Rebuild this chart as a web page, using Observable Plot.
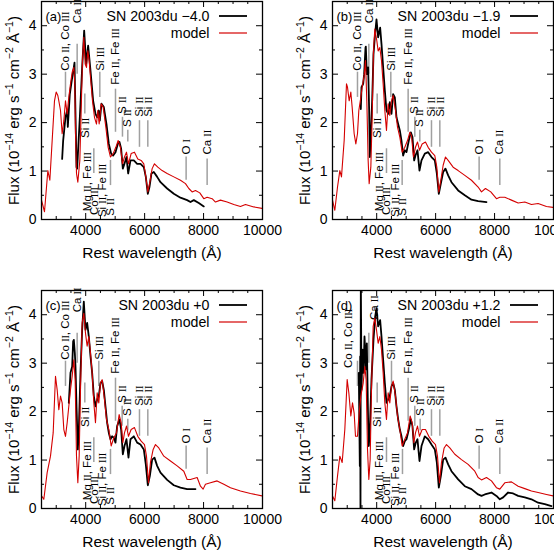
<!DOCTYPE html>
<html><head><meta charset="utf-8">
<script src="https://cdn.jsdelivr.net/npm/d3@7"></script>
<script src="https://cdn.jsdelivr.net/npm/@observablehq/plot@0.6"></script>
<style>
body{margin:0;background:#fff}
#wrap{position:relative;width:554px;height:551px;overflow:hidden;background:#fff}
#wrap svg{position:absolute}
</style></head><body><div id="wrap"></div>
<script>
// ---- data: [rest wavelength (Å), flux (1e-14 erg/s/cm2/Å)] ----
const obsA = [[3201,1.25],[3235,1.63],[3314,2.11],[3371,2.25],[3393,1.91],[3461,2.59],[3541,2.93],[3597,3.14],[3620,3.24],[3688,1.08],[3710,1.05],[3801,2.11],[3880,3.14],[3948,3.90],[4016,3.21],[4083,3.59],[4163,3.07],[4253,2.45],[4332,2.18],[4389,2.11],[4445,2.25],[4479,2.04],[4536,2.39],[4615,2.32],[4705,1.97],[4785,1.56],[4864,1.36],[4932,1.32],[5011,1.39],[5090,1.56],[5146,1.60],[5203,1.46],[5260,1.05],[5316,1.15],[5384,1.29],[5441,0.95],[5520,1.22],[5633,1.22],[5746,1.15],[5859,1.15],[5972,1.08],[6040,0.88],[6108,0.53],[6164,0.67],[6232,0.95],[6311,0.98],[6425,0.88],[6538,0.77],[6764,0.64],[6990,0.53],[7216,0.45],[7442,0.40],[7556,0.36],[7669,0.40],[7838,0.34],[8008,0.27]];
const modelA = [[2500,0.40],[2602,0.16],[2670,0.67],[2715,1.01],[2783,0.81],[2862,1.63],[2941,2.45],[2998,2.63],[3054,2.56],[3088,2.45],[3145,2.25],[3201,1.77],[3258,2.04],[3314,2.45],[3371,2.18],[3427,2.52],[3484,2.80],[3541,3.04],[3597,3.14],[3631,2.80],[3654,1.77],[3688,0.95],[3733,0.77],[3801,1.22],[3846,2.25],[3891,3.28],[3936,3.76],[3982,3.21],[4027,3.14],[4072,3.48],[4117,3.28],[4163,2.93],[4230,2.45],[4298,2.11],[4366,1.97],[4411,2.25],[4457,1.97],[4525,2.39],[4592,2.32],[4683,1.91],[4762,1.49],[4841,1.29],[4932,1.36],[5022,1.49],[5101,1.63],[5180,1.49],[5248,1.15],[5316,1.29],[5384,1.39],[5452,1.15],[5542,1.36],[5655,1.39],[5768,1.25],[5882,1.22],[5972,1.15],[6040,0.88],[6108,0.57],[6176,0.77],[6255,1.05],[6334,1.15],[6447,1.08],[6594,1.01],[6764,0.95],[6990,0.88],[7216,0.81],[7386,0.74],[7499,0.64],[7612,0.57],[7725,0.60],[7872,0.55],[8008,0.43],[8121,0.46],[8291,0.43],[8404,0.36],[8573,0.40],[8800,0.36],[9026,0.31],[9252,0.27],[9422,0.31],[9704,0.26],[9987,0.23]];

const obsB = [[3461,2.28],[3484,2.73],[3541,2.80],[3574,3.00],[3620,3.55],[3631,3.57],[3665,3.00],[3710,3.14],[3744,2.25],[3767,1.29],[3801,1.77],[3846,2.45],[3891,3.41],[3936,3.76],[3993,4.13],[4049,3.76],[4117,3.96],[4163,3.62],[4219,3.14],[4276,2.66],[4332,2.25],[4389,2.18],[4445,2.42],[4502,2.18],[4558,2.59],[4615,2.52],[4671,2.11],[4728,1.97],[4785,1.84],[4841,1.63],[4898,1.32],[4954,1.43],[5011,1.39],[5090,1.63],[5158,1.80],[5214,1.70],[5271,1.22],[5316,1.32],[5384,1.43],[5452,1.01],[5520,1.22],[5633,1.36],[5746,1.39],[5859,1.29],[5972,1.22],[6040,0.95],[6108,0.53],[6176,0.74],[6255,0.98],[6334,1.05],[6425,0.91],[6538,0.77],[6764,0.60],[6990,0.50],[7216,0.41],[7442,0.38],[7725,0.36]];
const modelB = [[2500,0.40],[2579,0.19],[2670,0.67],[2749,1.01],[2805,0.88],[2896,1.63],[2975,2.80],[3009,2.73],[3066,2.45],[3122,2.63],[3167,2.32],[3235,1.77],[3292,1.56],[3348,1.77],[3393,2.25],[3461,2.52],[3507,2.73],[3574,2.97],[3620,3.28],[3665,2.45],[3710,1.22],[3744,0.74],[3801,1.08],[3846,2.11],[3891,3.48],[3936,3.93],[4004,3.69],[4049,3.48],[4106,3.55],[4163,3.28],[4219,2.80],[4276,2.25],[4332,1.84],[4389,2.39],[4445,2.15],[4502,2.45],[4558,2.56],[4638,2.25],[4705,1.91],[4785,1.70],[4864,1.39],[4954,1.49],[5045,1.63],[5124,1.80],[5180,1.73],[5248,1.29],[5316,1.49],[5384,1.60],[5452,1.43],[5542,1.56],[5655,1.60],[5746,1.49],[5859,1.39],[5972,1.32],[6040,1.08],[6108,0.57],[6176,0.81],[6255,1.12],[6334,1.29],[6425,1.22],[6594,1.08],[6764,1.01],[6990,0.91],[7216,0.81],[7442,0.67],[7556,0.57],[7691,0.64],[7872,0.57],[8064,0.43],[8178,0.46],[8347,0.46],[8573,0.40],[8800,0.34],[9026,0.36],[9252,0.31],[9478,0.33],[9761,0.27],[9987,0.25]];

const obsC = [[3427,2.18],[3484,2.80],[3541,2.93],[3574,3.45],[3597,3.48],[3631,3.21],[3654,2.93],[3688,2.11],[3733,1.22],[3767,1.63],[3823,2.80],[3880,3.69],[3936,4.27],[3993,3.69],[4049,3.83],[4106,3.55],[4163,3.14],[4219,2.80],[4276,2.32],[4332,2.11],[4389,2.25],[4445,2.32],[4502,2.59],[4558,2.63],[4615,2.45],[4671,2.11],[4728,1.77],[4785,1.56],[4841,1.43],[4898,1.49],[4954,1.46],[5011,1.36],[5067,1.70],[5146,1.84],[5203,1.63],[5260,1.12],[5316,1.29],[5384,1.43],[5452,1.05],[5520,1.43],[5633,1.49],[5746,1.36],[5859,1.32],[5972,1.22],[6040,0.91],[6108,0.48],[6176,0.67],[6255,1.01],[6334,1.05],[6425,0.88],[6538,0.74],[6764,0.59],[6990,0.48],[7216,0.43],[7442,0.40],[7725,0.40]];
const modelC = [[2500,0.26],[2579,0.19],[2692,0.74],[2805,1.08],[2896,1.56],[2975,2.73],[3032,2.45],[3088,2.04],[3145,2.32],[3201,2.18],[3258,1.63],[3314,1.49],[3371,1.77],[3427,2.11],[3484,2.45],[3541,2.73],[3597,3.07],[3642,2.66],[3688,1.08],[3733,0.53],[3778,1.08],[3823,2.45],[3880,3.83],[3936,4.03],[3993,3.62],[4049,3.35],[4106,3.55],[4163,3.21],[4219,2.80],[4276,2.18],[4332,1.77],[4389,2.39],[4445,2.18],[4502,2.59],[4558,2.66],[4638,2.25],[4705,1.84],[4785,1.63],[4864,1.29],[4954,1.46],[5045,1.56],[5135,1.94],[5203,1.77],[5260,1.36],[5316,1.56],[5384,1.70],[5452,1.49],[5542,1.63],[5655,1.67],[5768,1.49],[5882,1.39],[5995,1.32],[6063,1.08],[6131,0.53],[6198,0.95],[6289,1.22],[6368,1.32],[6481,1.25],[6651,1.08],[6877,0.98],[7103,0.88],[7329,0.77],[7442,0.60],[7556,0.60],[7782,0.64],[7895,0.46],[7985,0.40],[8064,0.50],[8234,0.53],[8460,0.57],[8687,0.50],[8913,0.43],[9252,0.36],[9591,0.31],[9987,0.26]];

const obsD = [[3393,2.80],[3427,0.88],[3439,3.14],[3450,-0.3],[3461,4.8],[3484,2.45],[3518,3.28],[3552,2.80],[3586,3.55],[3608,3.28],[3631,2.87],[3665,3.41],[3688,2.59],[3710,1.77],[3733,1.29],[3767,1.63],[3823,2.66],[3891,3.48],[3948,3.96],[3993,4.13],[4049,3.76],[4117,3.89],[4163,3.55],[4219,3.07],[4276,2.59],[4332,2.18],[4389,2.25],[4445,2.32],[4502,2.52],[4558,2.59],[4615,2.45],[4671,2.11],[4728,1.84],[4785,1.63],[4841,1.49],[4898,1.29],[4954,1.39],[5011,1.43],[5090,1.63],[5158,1.84],[5214,1.70],[5271,1.22],[5327,1.36],[5384,1.43],[5452,0.98],[5520,1.29],[5633,1.49],[5746,1.43],[5859,1.32],[5972,1.22],[6040,0.95],[6108,0.43],[6176,0.67],[6255,1.01],[6334,1.05],[6425,0.91],[6538,0.77],[6764,0.60],[6990,0.46],[7216,0.40],[7442,0.29],[7556,0.26],[7669,0.29],[7895,0.33],[8064,0.26],[8178,0.19],[8291,0.23],[8460,0.33],[8630,0.31],[8800,0.26],[9026,0.23],[9252,0.19],[9478,0.12],[9704,0.09],[9931,0.05]];
const modelD = [[2500,0.26],[2579,0.16],[2670,0.67],[2749,1.08],[2828,0.95],[2918,1.63],[2998,2.66],[3054,2.39],[3122,1.91],[3179,2.18],[3235,1.97],[3280,1.49],[3348,1.49],[3405,1.97],[3461,2.32],[3541,2.59],[3597,2.93],[3642,2.66],[3688,1.22],[3733,0.60],[3778,1.01],[3823,2.45],[3880,3.76],[3936,3.93],[3993,3.69],[4049,3.41],[4106,3.55],[4163,3.28],[4219,2.80],[4276,2.18],[4332,1.84],[4389,2.39],[4445,2.18],[4502,2.52],[4558,2.63],[4638,2.32],[4705,1.91],[4785,1.63],[4864,1.29],[4954,1.43],[5045,1.56],[5135,1.91],[5203,1.77],[5260,1.36],[5316,1.56],[5384,1.70],[5452,1.49],[5542,1.63],[5655,1.63],[5768,1.49],[5882,1.39],[5995,1.32],[6063,1.08],[6131,0.53],[6198,0.95],[6289,1.25],[6368,1.32],[6481,1.25],[6651,1.12],[6877,1.01],[7103,0.91],[7329,0.77],[7442,0.64],[7556,0.59],[7725,0.64],[7895,0.57],[8064,0.43],[8178,0.40],[8347,0.53],[8573,0.55],[8800,0.46],[9026,0.41],[9252,0.36],[9478,0.33],[9761,0.29],[9987,0.26]];

// ---- line identifications ----
const ionNames = ["Co II, Co III","Ca II","Si III","Fe II, Fe III","S II","S II","Si II","Si II","O I","Ca II","Si II","Mg II, Fe III","Co III","Si II, Fe III","S II"];
const ionSide  = ["above","above","above","above","above","above","above","above","above","above","below","below","below","below","below"];
const ionWaveA = [3314,3710,4479,5011,5248,5429,5825,6108,7408,8121,3970,4049,4276,4558,4841];
const ionWaveB = [3348,3733,4479,5067,5293,5463,5859,6142,7476,8178,4016,4083,4332,4615,4864];
const ionWaveC = [3314,3710,4445,5011,5237,5429,5825,6108,7408,8121,3970,4049,4276,4558,4841];
const ionWaveD = [3348,3733,4502,5067,5293,5475,5859,6142,7476,8178,4016,4083,4332,4615,4875];
const ionLabelWaveD = [3032,3920,4502,5067,5293,5475,5859,6142,7476,8178,4016,4083,4332,4615,4875];
const ionLineTop    = [3.04,3.62,3.04,2.69,2.11,1.84,2.04,2.04,1.29,1.25,2.59,null,1.46,null,1.22];
const ionLineBottom = [2.52,3.00,2.52,1.80,1.70,1.60,1.49,1.49,0.81,0.70,2.18,null,0.95,null,0.70];
const ionLabelAt    = [3.07,4.05,3.07,2.78,2.18,1.91,2.12,2.12,1.34,1.34,2.10,1.39,0.67,1.15,0.44];
const ionLabelAtD   = [2.90,3.89,3.07,2.78,2.18,1.91,2.12,2.12,1.34,1.34,2.10,1.39,0.67,1.15,0.44];

const xTickLabels = [4000,6000,8000,10000];
const yTickLabels = [0,1,2,3,4];
const panelTags = ["(a)","(b)","(c)","(d)"];
const epochNames = ["SN 2003du −4.0","SN 2003du −1.9","SN 2003du +0","SN 2003du +1.2"];

const W = 291, H = 289, mL = 41, mR = 29, mT = 1, mB = 70;
const xDom = [2500,10000], yDom = [0,4.5];
const pxY = (H - mT - mB) / (yDom[1]-yDom[0]);
const pxX = (W - mL - mR) / (xDom[1]-xDom[0]);
const RED = "#d40000";

const panels = [
  {obs:obsA, model:modelA, waves:ionWaveA, lwaves:ionWaveA, at:ionLabelAt, left:0, top:0},
  {obs:obsB, model:modelB, waves:ionWaveB, lwaves:ionWaveB, at:ionLabelAt, left:291, top:0},
  {obs:obsC, model:modelC, waves:ionWaveC, lwaves:ionWaveC, at:ionLabelAt, left:0, top:289},
  {obs:obsD, model:modelD, waves:ionWaveD, lwaves:ionLabelWaveD, at:ionLabelAtD, left:291, top:289}
];

const xMinor = d3.range(3000, 10000, 500);
const yMinor = d3.range(0.5, 4.5, 0.5);
const isMajX = d => d % 2000 === 0;
const isMajY = d => Number.isInteger(d);

function build(p, k) {
  const ions = ionNames.map((n,i) => ({name:n, side:ionSide[i], wave:p.waves[i], lw:p.lwaves[i],
    top:ionLineTop[i], bottom:ionLineBottom[i], at:p.at[i]}));
  const svg = Plot.plot({
    width:W, height:H, marginLeft:mL, marginRight:mR, marginTop:mT, marginBottom:mB,
    style:{fontFamily:"'Liberation Sans', Arial, sans-serif", fontSize:"14px", color:"black", background:"white", overflow:"visible"},
    x:{domain:xDom, ticks:xTickLabels, tickSize:0, tickPadding:6, tickFormat:d=>String(d), label:null},
    y:{domain:yDom, ticks:yTickLabels, tickSize:0, tickPadding:5, tickFormat:d=>String(d), label:null},
    marks:[
      Plot.ruleX(ions.filter(d=>d.top!=null), {x:"wave", y1:"bottom", y2:"top", stroke:"#a0a0a0", strokeWidth:1.5}),
      Plot.text(ions.filter(d=>d.side==="above"), {x:"lw", y:"at", text:"name", rotate:-90, textAnchor:"start", lineAnchor:"middle", fontSize:11.5, fill:"black"}),
      Plot.text(ions.filter(d=>d.side==="below"), {x:"lw", y:"at", text:"name", rotate:-90, textAnchor:"end", lineAnchor:"middle", fontSize:11.5, fill:"black"}),
      Plot.line(p.obs, {x:d=>d[0], y:d=>d[1], stroke:"black", strokeWidth:1.8, clip:true}),
      Plot.line(p.model, {x:d=>d[0], y:d=>d[1], stroke:RED, strokeWidth:1.1, clip:true}),
      Plot.ruleX(xMinor, {x:d=>d, y1:yDom[0], y2:d=>yDom[0] + (isMajX(d)?6:3)/pxY, stroke:"black"}),
      Plot.ruleX(xMinor, {x:d=>d, y1:d=>yDom[1] - (isMajX(d)?6:3)/pxY, y2:yDom[1], stroke:"black"}),
      Plot.ruleY(yMinor, {y:d=>d, x1:xDom[0], x2:d=>xDom[0] + (isMajY(d)?6:3)/pxX, stroke:"black"}),
      Plot.ruleY(yMinor, {y:d=>d, x1:d=>xDom[1] - (isMajY(d)?6:3)/pxX, x2:xDom[1], stroke:"black"}),
      Plot.frame({stroke:"black", strokeWidth:1.3}),
      Plot.text([panelTags[k]], {frameAnchor:"top-left", text:d=>d, dx:4, dy:15, textAnchor:"start", lineAnchor:"middle", fontSize:13}),
      Plot.text([epochNames[k]], {frameAnchor:"top-right", text:d=>d, dx:-53, dy:15, textAnchor:"end", lineAnchor:"middle", fontSize:14.2}),
      Plot.text(["model"], {frameAnchor:"top-right", text:d=>d, dx:-53, dy:32, textAnchor:"end", lineAnchor:"middle", fontSize:14.2}),
      Plot.text(["Rest wavelength (Å)"], {frameAnchor:"bottom", text:d=>d, dy:34, textAnchor:"middle", lineAnchor:"middle", fontSize:15.5}),
      Plot.text(["Flux (10−14 erg s−1 cm−2 Å−1)"], {frameAnchor:"left", text:d=>d, dx:-27, rotate:-90, textAnchor:"middle", lineAnchor:"middle", fontSize:15})
    ]
  });
  const s = d3.select(svg);
  // legend samples
  const xr = W - mR;
  s.append("line").attr("x1", xr-43).attr("x2", xr-15).attr("y1", mT+15).attr("y2", mT+15).attr("stroke","black").attr("stroke-width",1.8);
  s.append("line").attr("x1", xr-43).attr("x2", xr-15).attr("y1", mT+32).attr("y2", mT+32).attr("stroke",RED).attr("stroke-width",1.2);
  // styled text: superscripts in y title, serif numerals in ion labels
  s.selectAll("text").each(function() {
    const t = this.textContent;
    if (t.startsWith("Flux (10")) {
      const parts = [["Flux (10",0],["−14",1],[" erg s",0],["−1",1],[" cm",0],["−2",1],[" Å",0],["−1",1],[")",0]];
      this.textContent = "";
      for (const [str, sup] of parts) {
        const ts = d3.select(this).append("tspan").text(str);
        if (sup) ts.attr("baseline-shift","super").attr("font-size","70%");
      }
    } else if (/\bI+\b/.test(t)) {
      const bits = t.split(/\b(I+)\b/);
      this.textContent = "";
      bits.forEach((b, i) => {
        if (!b) return;
        const ts = d3.select(this).append("tspan").text(b);
        if (i % 2 === 1) ts.attr("font-family","'Liberation Serif', serif").attr("font-size","88%");
      });
    }
  });
  svg.style.left = p.left + "px";
  svg.style.top = p.top + "px";
  return svg;
}
const wrap = document.getElementById("wrap");
panels.forEach((p,k) => wrap.appendChild(build(p,k)));
</script></body></html>
